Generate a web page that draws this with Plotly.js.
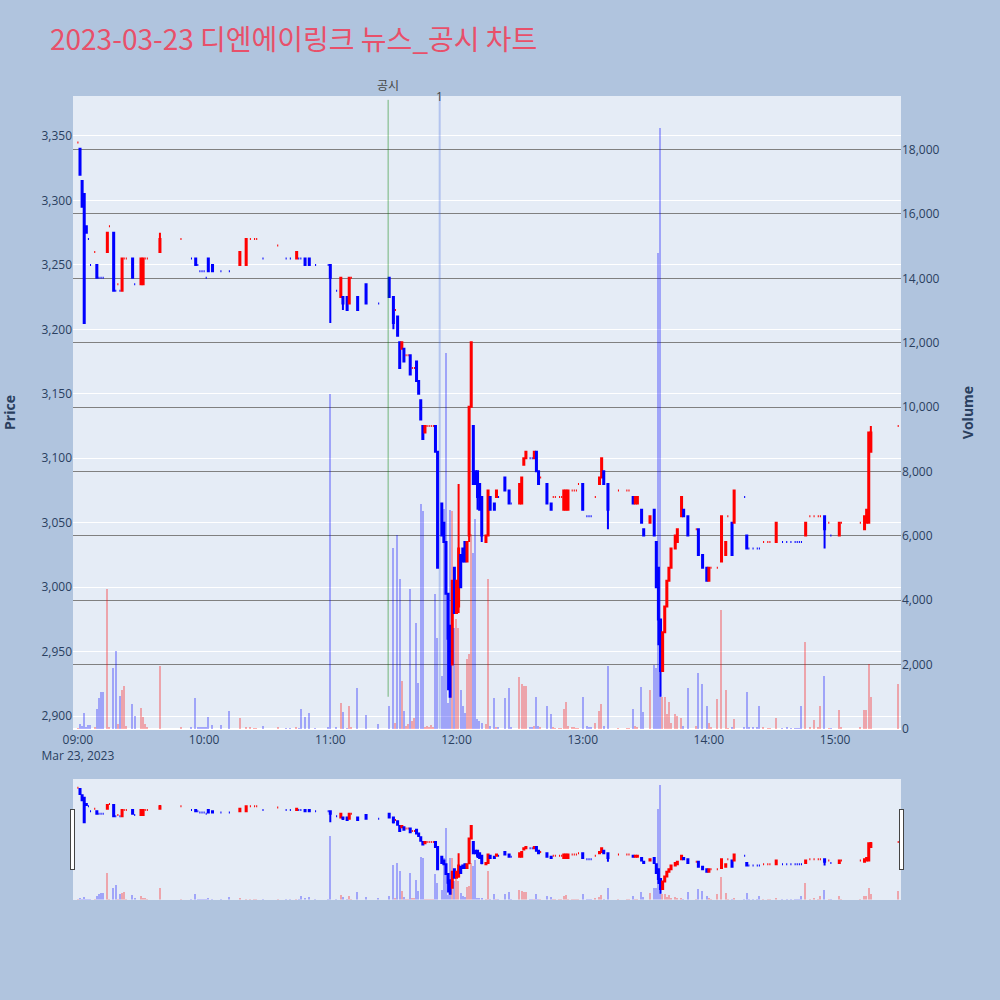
<!DOCTYPE html>
<html><head><meta charset="utf-8">
<script src="https://cdn.plot.ly/plotly-3.0.1.min.js"></script>
<style>body{margin:0;background:#B0C4DE}</style>
</head><body><div id="chart" style="width:1000px;height:1000px"></div>
<script>
const DAY = '2023-03-23 ';
const times = ['09:00','09:01','09:02','09:03','09:04','09:05','09:06','09:08','09:09','09:10','09:11','09:12','09:14','09:15','09:17','09:18','09:19','09:20','09:21','09:22','09:23','09:26','09:27','09:30','09:31','09:32','09:33','09:39','09:49','09:54','09:56','09:57','09:58','09:59','10:00','10:01','10:02','10:04','10:08','10:12','10:17','10:20','10:22','10:24','10:25','10:28','10:35','10:39','10:41','10:44','10:45','10:46','10:48','10:50','10:53','10:59','11:00','11:03','11:05','11:06','11:08','11:09','11:10','11:13','11:17','11:23','11:28','11:30','11:31','11:32','11:33','11:34','11:35','11:36','11:37','11:38','11:39','11:40','11:41','11:42','11:43','11:44','11:45','11:46','11:47','11:48','11:49','11:50','11:51','11:53','11:54','11:55','11:56','11:57','11:58','11:59','12:00','12:01','12:02','12:03','12:04','12:05','12:06','12:07','12:08','12:09','12:10','12:11','12:12','12:14','12:15','12:16','12:18','12:19','12:20','12:23','12:25','12:26','12:30','12:31','12:32','12:33','12:35','12:36','12:37','12:38','12:39','12:40','12:43','12:45','12:46','12:47','12:49','12:50','12:51','12:52','12:53','12:55','12:56','12:57','12:58','13:00','13:02','13:03','13:04','13:06','13:08','13:09','13:10','13:12','13:17','13:21','13:22','13:24','13:25','13:26','13:28','13:29','13:32','13:34','13:35','13:36','13:37','13:38','13:39','13:40','13:41','13:42','13:44','13:45','13:47','13:48','13:50','13:54','13:55','13:57','13:59','14:00','14:01','14:04','14:06','14:08','14:09','14:11','14:12','14:17','14:18','14:19','14:21','14:23','14:24','14:26','14:28','14:29','14:32','14:35','14:37','14:39','14:41','14:42','14:43','14:44','14:46','14:48','14:50','14:52','14:53','14:55','14:57','14:58','15:02','15:03','15:12','15:14','15:15','15:16','15:17','15:30'];
const open = [3345,3340,3315,3305,3280,3270,3250,3260,3250,3240,3240,3240,3260,3280,3275,3230,3235,3230,3230,3255,3255,3255,3235,3235,3235,3255,3255,3260,3270,3255,3255,3250,3245,3245,3245,3240,3255,3250,3245,3245,3250,3250,3270,3270,3270,3255,3265,3255,3255,3255,3255,3255,3255,3255,3250,3250,3250,3230,3225,3225,3225,3220,3240,3225,3235,3220,3240,3225,3215,3210,3190,3185,3185,3180,3180,3180,3170,3170,3175,3160,3145,3125,3120,3125,3125,3125,3125,3125,3105,3065,3050,3035,2995,2970,2940,3015,2980,2985,3025,3030,3035,3020,3040,3140,3125,3090,3090,3080,3070,3035,3040,3070,3065,3070,3070,3085,3075,3065,3065,3065,3095,3100,3100,3100,3100,3105,3090,3085,3080,3065,3070,3070,3070,3070,3060,3060,3060,3075,3075,3075,3080,3080,3055,3055,3055,3070,3080,3085,3090,3080,3075,3075,3075,3070,3065,3065,3060,3045,3050,3060,3035,3015,2975,2935,2965,2985,3005,3015,3030,3035,3055,3060,3055,3045,3045,3025,3015,3005,3015,3015,3020,3025,3055,3050,3050,3070,3040,3030,3030,3030,3030,3035,3035,3035,3035,3035,3035,3035,3035,3035,3035,3035,3040,3055,3055,3055,3055,3055,3050,3040,3040,3050,3050,3045,3050,3050,3105,3125];
const high = [3345,3340,3315,3305,3280,3270,3250,3260,3250,3240,3240,3240,3275,3280,3275,3230,3235,3230,3255,3255,3255,3255,3235,3255,3255,3255,3255,3275,3270,3255,3255,3250,3245,3245,3245,3240,3255,3250,3245,3245,3260,3270,3270,3270,3270,3255,3265,3255,3255,3260,3255,3255,3255,3255,3250,3250,3250,3230,3240,3225,3225,3240,3240,3225,3235,3220,3240,3225,3215,3210,3190,3190,3185,3180,3180,3180,3170,3170,3175,3160,3145,3125,3125,3125,3125,3125,3125,3125,3105,3065,3050,3035,2995,2970,3005,3015,3005,3080,3025,3030,3035,3035,3140,3190,3125,3090,3090,3080,3070,3040,3075,3070,3065,3075,3070,3085,3075,3065,3080,3085,3100,3105,3100,3100,3105,3105,3090,3085,3080,3065,3070,3070,3070,3070,3075,3075,3075,3075,3075,3075,3080,3080,3055,3055,3055,3070,3085,3100,3090,3080,3075,3075,3075,3070,3070,3070,3060,3045,3055,3060,3035,3015,2975,2965,2985,3005,3015,3030,3040,3045,3070,3060,3055,3045,3045,3025,3015,3015,3015,3015,3055,3035,3055,3050,3075,3070,3040,3030,3030,3030,3030,3035,3035,3035,3050,3035,3035,3035,3035,3035,3035,3035,3050,3055,3055,3055,3055,3055,3050,3040,3050,3050,3050,3055,3060,3120,3125,3125];
const low = [3345,3320,3295,3205,3275,3270,3250,3260,3240,3240,3240,3240,3260,3280,3230,3230,3235,3230,3230,3255,3255,3240,3235,3235,3235,3255,3255,3260,3270,3255,3250,3250,3245,3245,3245,3240,3245,3245,3245,3245,3250,3250,3270,3270,3270,3255,3265,3255,3255,3255,3255,3255,3250,3250,3250,3250,3205,3230,3225,3215,3215,3220,3240,3215,3220,3220,3225,3200,3215,3195,3170,3185,3175,3180,3180,3165,3170,3170,3160,3150,3130,3115,3120,3125,3125,3125,3125,3105,3015,3040,3035,2995,2920,2915,2940,2980,2980,2980,3000,3020,3020,3020,3035,3140,3080,3080,3060,3060,3035,3035,3040,3060,3060,3070,3070,3075,3065,3065,3065,3065,3095,3100,3100,3100,3100,3090,3080,3085,3065,3060,3070,3070,3070,3070,3060,3060,3060,3075,3075,3075,3080,3060,3055,3055,3055,3070,3080,3085,3080,3045,3075,3075,3075,3065,3065,3065,3050,3040,3050,3040,3000,2955,2915,2935,2965,2985,3005,3015,3030,3035,3055,3055,3040,3045,3025,3015,3005,3005,3015,3015,3020,3025,3055,3025,3050,3070,3030,3030,3030,3030,3030,3035,3035,3035,3035,3035,3035,3035,3035,3035,3035,3035,3040,3055,3055,3055,3055,3030,3050,3040,3040,3050,3050,3045,3050,3050,3105,3125];
const close = [3345,3320,3295,3205,3275,3270,3250,3260,3240,3240,3240,3240,3275,3280,3230,3230,3235,3230,3255,3255,3255,3240,3235,3255,3255,3255,3255,3270,3270,3255,3250,3250,3245,3245,3245,3240,3245,3245,3245,3245,3260,3270,3270,3270,3270,3255,3265,3255,3255,3260,3255,3255,3250,3250,3250,3250,3240,3230,3240,3220,3215,3240,3240,3215,3220,3220,3225,3205,3215,3195,3170,3190,3175,3180,3180,3165,3170,3170,3160,3150,3130,3115,3125,3125,3125,3125,3125,3105,3015,3040,3035,2995,2960,2915,3005,2980,3005,3030,3000,3020,3020,3035,3140,3190,3080,3080,3070,3060,3040,3040,3075,3060,3060,3075,3070,3075,3065,3065,3080,3085,3100,3105,3100,3100,3105,3090,3080,3085,3065,3060,3070,3070,3070,3070,3075,3075,3075,3075,3075,3075,3080,3060,3055,3055,3055,3070,3085,3100,3080,3060,3075,3075,3075,3065,3070,3070,3050,3040,3055,3040,3000,2975,2935,2965,2985,3005,3015,3030,3040,3045,3070,3055,3040,3045,3025,3015,3005,3015,3015,3015,3055,3035,3055,3025,3075,3070,3030,3030,3030,3030,3030,3035,3035,3035,3050,3035,3035,3035,3035,3035,3035,3035,3050,3055,3055,3055,3055,3045,3050,3040,3050,3050,3050,3055,3060,3120,3120,3125];
const volume = [20,170,100,510,60,120,120,50,630,970,1160,1160,4340,60,1885,2420,160,1025,1210,1325,80,765,405,640,385,170,40,1955,40,50,950,40,50,40,50,40,385,130,130,560,340,60,40,30,30,100,40,30,30,40,30,610,385,500,30,40,10400,40,820,540,30,700,40,1265,420,170,715,5630,200,6025,4670,1490,560,80,150,4360,240,350,3300,1440,6980,6770,60,80,60,120,40,4180,2840,1650,6820,11690,800,6790,6770,3150,3420,3150,1200,700,500,2170,2330,6060,5480,6520,300,250,200,150,4650,100,970,50,40,970,1265,40,1615,1400,1350,1350,60,60,80,1000,100,60,710,480,40,30,30,30,620,830,100,40,40,30,30,1000,100,50,40,200,560,770,100,1955,30,30,30,610,80,60,1300,540,1200,1990,1900,14800,18680,990,990,460,830,200,460,400,350,100,1280,100,1750,1410,700,200,50,930,3690,1210,30,50,300,40,1160,50,40,40,700,40,30,30,340,30,40,30,30,30,30,720,2710,40,290,40,720,1650,30,30,600,50,40,600,600,2010,1000,1410];

const x = times.map(t => DAY + t);
// direction like plotly's candlestick: equal open/close compares with previous close
const volColors = [];
let inc = true, prev = null;
for (let i = 0; i < close.length; i++) {
  if (close[i] === open[i]) { if (prev !== null && close[i] !== prev) inc = close[i] > prev; }
  else inc = close[i] > open[i];
  prev = close[i];
  volColors.push(inc ? 'red' : 'blue');
}

const candle = {
  type: 'candlestick', x: x, open: open, high: high, low: low, close: close,
  increasing: {line: {color: 'red'}, fillcolor: 'red'},
  decreasing: {line: {color: 'blue'}, fillcolor: 'blue'},
  name: 'Price', yaxis: 'y', showlegend: false
};
const bars = {
  type: 'bar', x: x, y: volume, yaxis: 'y2', name: 'Volume', width: 40000,
  marker: {color: volColors, line: {width: 0}}, opacity: 0.3, showlegend: false
};

const newsX = DAY + '11:27:30';
const markX = DAY + '11:52:00';

const layout = {
  width: 1000, height: 1000,
  paper_bgcolor: '#B0C4DE', plot_bgcolor: '#E5ECF6',
  font: {family: '"Open Sans", "Noto Sans CJK KR", sans-serif', color: '#2a3f5f', size: 12},
  title: {text: '2023-03-23 디엔에이링크 뉴스_공시 차트', x: 0.05, xanchor: 'left', y: 0.96, yanchor: 'middle',
          font: {family: '"Noto Sans CJK KR", sans-serif', size: 28, color: '#E8506A'}},
  margin: {l: 73, r: 99, t: 96, b: 100},
  showlegend: false,
  bargap: 0,
  xaxis: {type: 'date', range: [DAY + '08:57:40', DAY + '15:31:20'], showgrid: false,
          dtick: 3600000, tick0: DAY + '09:00', zeroline: false, linecolor: 'white',
          rangeslider: {visible: true, bgcolor: '#E5ECF6', thickness: 0.15}},
  yaxis: {title: {text: 'Price', font: {size: 14, weight: 'bold'}, standoff: 28}, range: [2890, 3381], dtick: 50,
          tickformat: ',', gridcolor: 'white', zeroline: false},
  yaxis2: {title: {text: 'Volume', font: {size: 14, weight: 'bold'}, standoff: 24}, overlaying: 'y', side: 'right',
           rangemode: 'tozero', dtick: 2000, tickformat: ',', gridcolor: 'gray', zerolinecolor: 'white', zerolinewidth: 2},
  shapes: [
    {type: 'line', xref: 'x', yref: 'y', x0: newsX, x1: newsX, y0: 2915, y1: 3378,
     line: {color: 'green', width: 1}, opacity: 0.5},
    {type: 'line', xref: 'x', yref: 'paper', x0: markX, x1: markX, y0: 0, y1: 1,
     line: {color: 'royalblue', width: 2}, opacity: 0.3}
  ],
  annotations: [
    {x: newsX, xref: 'x', y: 1, yref: 'paper', yanchor: 'bottom', text: '공시', showarrow: false,
     font: {size: 12, color: '#444'}},
    {x: markX, xref: 'x', y: 1, yref: 'paper', yanchor: 'middle', text: '1', showarrow: false,
     font: {size: 12, color: '#444'}}
  ]
};
Plotly.newPlot('chart', [bars, candle], layout, {displayModeBar: false});
</script></body></html>
